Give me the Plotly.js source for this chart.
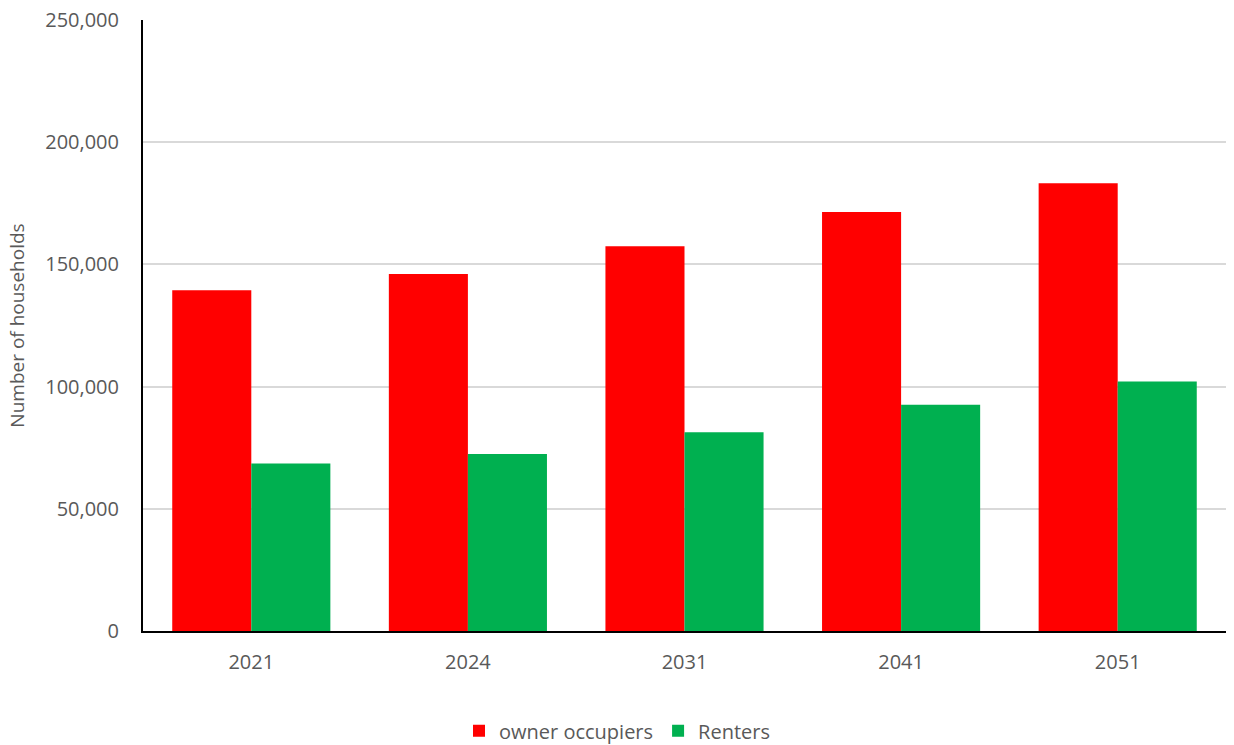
<!DOCTYPE html>
<html>
<head>
<meta charset="utf-8">
<script src="https://cdn.plot.ly/plotly-3.0.1.min.js"></script>
<style>html,body{margin:0;padding:0;background:#fff;}#chart{width:1234px;height:745px;}</style>
</head>
<body>
<div id="chart"></div>
<script>
const years = ["2021", "2024", "2031", "2041", "2051"];
const ownerOccupiers = [139400, 146100, 157400, 171400, 183200];
const renters = [68500, 72400, 81300, 92600, 102100];
const yTickVals = [0, 50000, 100000, 150000, 200000, 250000];
const yTickText = ["0", "50,000", "100,000", "150,000", "200,000", "250,000"];

const font = "'Open Sans', 'Liberation Sans', sans-serif";
const data = [
  {type: "bar", name: "owner occupiers", x: years, y: ownerOccupiers,
   marker: {color: "#ff0000", line: {width: 0}}},
  {type: "bar", name: "Renters", x: years, y: renters,
   marker: {color: "#00b050", line: {width: 0}}}
];
const layout = {
  width: 1234, height: 745,
  margin: {l: 143, r: 8, t: 20, b: 114, autoexpand: false},
  paper_bgcolor: "#fff", plot_bgcolor: "#fff",
  font: {family: font, size: 20, color: "#595959"},
  barmode: "group", bargap: 0.27, bargroupgap: 0,
  showlegend: true,
  legend: {orientation: "h", x: 0.5, xanchor: "center", xref: "container",
           y: 0.019, yanchor: "middle", yref: "container",
           font: {size: 20, color: "#595959"}, itemwidth: 30, traceorder: "normal"},
  xaxis: {type: "category", showline: true, linecolor: "#000", linewidth: 2,
          ticks: "outside", ticklen: 12, tickcolor: "rgba(0,0,0,0)",
          tickfont: {size: 20, color: "#595959"}, showgrid: false, zeroline: false,
          automargin: false},
  yaxis: {range: [0, 250000], tickvals: yTickVals, ticktext: yTickText,
          showline: true, linecolor: "#000", linewidth: 2,
          ticks: "outside", ticklen: 18, tickcolor: "rgba(0,0,0,0)",
          gridcolor: "#d9d9d9", gridwidth: 2, zeroline: false,
          tickfont: {size: 20, color: "#595959"},
          title: {text: "Number of households", font: {size: 19, color: "#595959"}, standoff: 16},
          automargin: false}
};
Plotly.newPlot("chart", data, layout, {displayModeBar: false, staticPlot: true});
</script>
</body>
</html>
